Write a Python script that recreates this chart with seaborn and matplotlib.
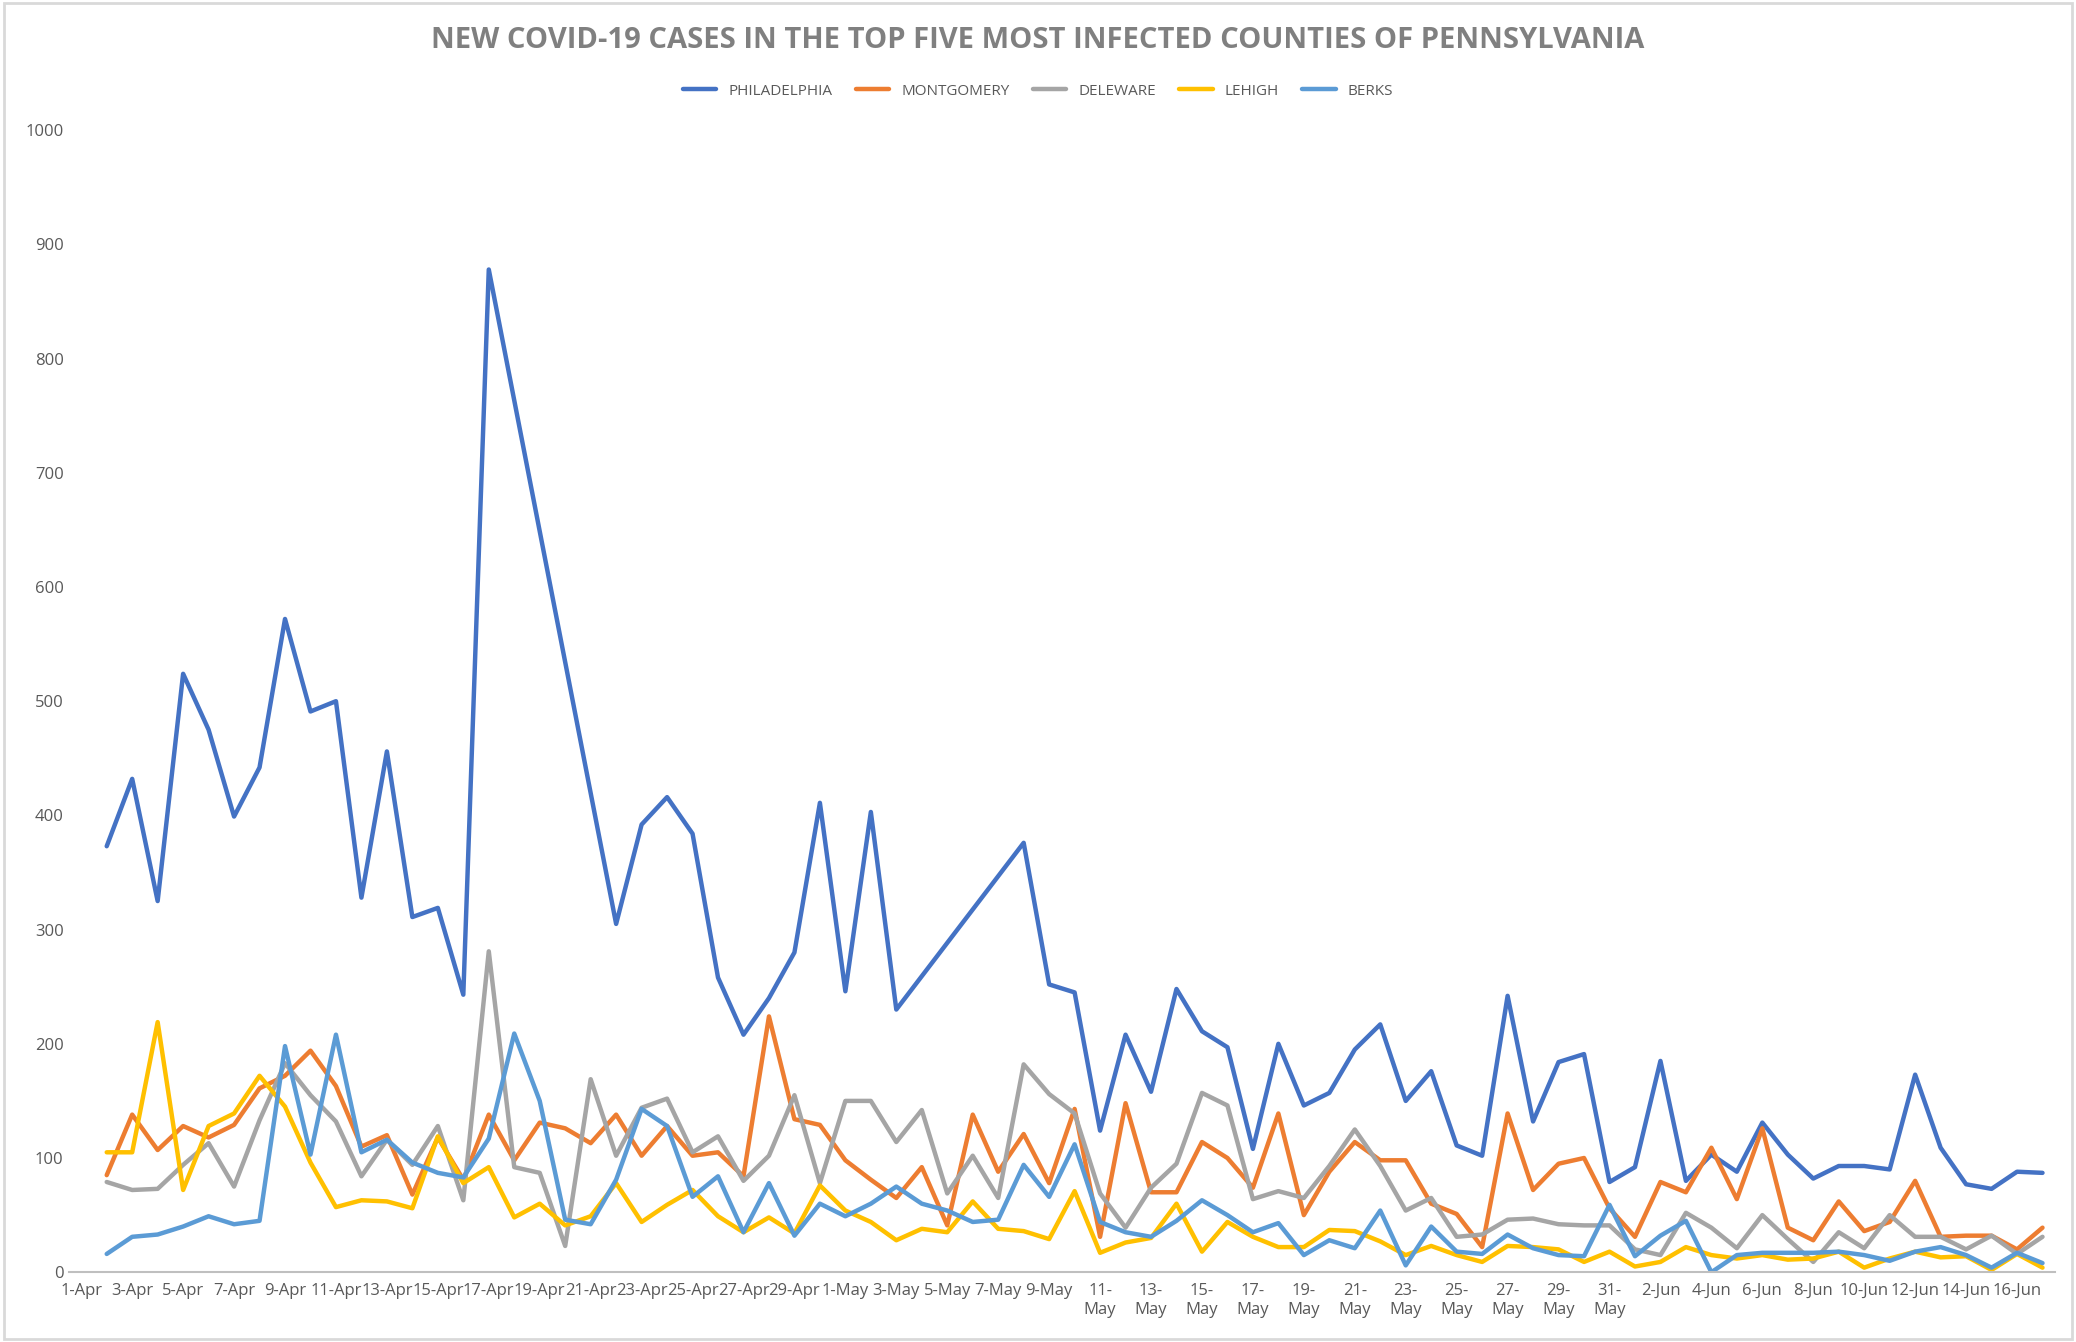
import numpy as np
import pandas as pd
import matplotlib
matplotlib.use("Agg")
import matplotlib.pyplot as plt
import seaborn as sns
import datetime as dt

nan = np.nan
dates = [dt.date(2020, 4, 1) + dt.timedelta(days=i) for i in range(78)]

philadelphia = [nan, 373, 432, 325, 524, 475, 399, 442, 572, 491, 500, 328, 456, 311, 319, 243, 878,
                nan, nan, nan, nan, 305, 392, 416, 384, 258, 208, 240, 280, 411, 246, 403, 230,
                nan, nan, nan, nan, 376, 252, 245, 124, 208, 158, 248, 211, 197, 108, 200, 146, 157,
                195, 217, 150, 176, 111, 102, 242, 132, 184, 191, 79, 92, 185, 80, 103, 88, 131, 103,
                82, 93, 93, 90, 173, 109, 77, 73, 88, 87]
montgomery = [nan, 85, 138, 107, 128, 118, 129, 161, 172, 194, 163, 110, 120, 68, 118, 81, 138, 98, 131,
              126, 113, 138, 102, 128, 102, 105, 84, 224, 134, 129, 98, 81, 65, 92, 41, 138, 88, 121, 78,
              143, 31, 148, 70, 70, 114, 100, 74, 139, 50, 88, 114, 98, 98, 60, 51, 22, 139, 72, 95, 100,
              56, 31, 79, 70, 109, 64, 126, 39, 28, 62, 36, 44, 80, 31, 32, 32, 20, 39]
deleware = [nan, 79, 72, 73, 94, 113, 75, 133, 183, 155, 132, 84, 116, 94, 128, 63, 281, 92, 87, 23, 169,
            102, 144, 152, 105, 119, 80, 102, 155, 78, 150, 150, 114, 142, 69, 102, 65, 182, 156, 139,
            69, 39, 74, 95, 157, 146, 64, 71, 65, 93, 125, 93, 54, 65, 31, 33, 46, 47, 42, 41, 41, 20,
            15, 52, 39, 21, 50, 29, 9, 35, 21, 50, 31, 31, 20, 32, 16, 31]
lehigh = [nan, 105, 105, 219, 72, 128, 139, 172, 145, 96, 57, 63, 62, 56, 119, 78, 92, 48, 60, 41, 49, 78,
          44, 59, 72, 49, 35, 48, 34, 76, 54, 44, 28, 38, 35, 62, 38, 36, 29, 71, 17, 26, 30, 60, 18, 44,
          31, 22, 22, 37, 36, 27, 15, 23, 15, 9, 23, 22, 20, 9, 18, 5, 9, 22, 15, 12, 15, 11, 12, 18, 4,
          12, 18, 13, 14, 2, 16, 4]
berks = [nan, 16, 31, 33, 40, 49, 42, 45, 198, 103, 208, 105, 116, 96, 87, 83, 117, 209, 150, 46, 42, 81,
         143, 128, 66, 84, 35, 78, 32, 60, 49, 60, 75, 60, 54, 44, 46, 94, 66, 112, 44, 35, 31, 45, 63,
         50, 35, 43, 15, 28, 21, 54, 6, 40, 18, 16, 33, 21, 15, 14, 59, 14, 32, 45, 0, 15, 17, 17, 17,
         18, 15, 10, 18, 22, 15, 4, 17, 8]

series_names = ["PHILADELPHIA", "MONTGOMERY", "DELEWARE", "LEHIGH", "BERKS"]
series_vals = [philadelphia, montgomery, deleware, lehigh, berks]
colors = ["#4472C4", "#ED7D31", "#A5A5A5", "#FFC000", "#5B9BD5"]

def label(d):
    s = f"{d.day}-{d.strftime('%b')}"
    if d.month == 5 and d.day >= 10:
        s = f"{d.day}-\n{d.strftime('%b')}"
    return s
tick_labels = [label(d) for d in dates]

rows = []
for name, vals in zip(series_names, series_vals):
    for i, v in enumerate(vals):
        if not np.isnan(v):
            rows.append({"idx": i, "cases": v, "county": name})
df = pd.DataFrame(rows)

sns.set_style("white")
plt.rcParams["font.family"] = ["Open Sans", "DejaVu Sans"]

fig = plt.figure(figsize=(20.76, 13.42), dpi=100)
ax = fig.add_axes([0.033, 0.052, 0.957, 0.851])
sns.lineplot(data=df, x="idx", y="cases", hue="county", hue_order=series_names,
             palette=colors, linewidth=3.2, estimator=None, sort=True, ax=ax, legend=False)

ax.set_xlim(-0.5, 77.5)
ax.set_ylim(0, 1000)
ax.set_yticks(range(0, 1001, 100))
ax.set_xticks(range(0, 78, 2))
ax.set_xticklabels([tick_labels[i] for i in range(0, 78, 2)])
ax.tick_params(axis="both", length=0, labelsize=12, labelcolor="#595959")
ax.tick_params(axis="x", pad=8)
ax.set_xlabel("")
ax.set_ylabel("")
for s in ["top", "right", "left"]:
    ax.spines[s].set_visible(False)
ax.spines["bottom"].set_color("#BFBFBF")
ax.spines["bottom"].set_linewidth(1.5)

from matplotlib.lines import Line2D
handles = [Line2D([0], [0], color=c, lw=3.2) for c in colors]
fig.legend(handles, series_names, loc="center", bbox_to_anchor=(0.5, 0.932), ncol=5,
           frameon=False, fontsize=11, labelcolor="#595959", handlelength=2.2, columnspacing=1.5)

fig.text(0.5, 0.970, "NEW COVID-19 CASES IN THE TOP FIVE MOST INFECTED COUNTIES OF PENNSYLVANIA",
         ha="center", va="center", fontsize=21, fontweight="bold", color="#808080")

fig.patches.append(plt.Rectangle((0.002, 0.002), 0.996, 0.996, transform=fig.transFigure,
                                 fill=False, edgecolor="#D9D9D9", linewidth=2))
fig.savefig("out.png", dpi=100)
